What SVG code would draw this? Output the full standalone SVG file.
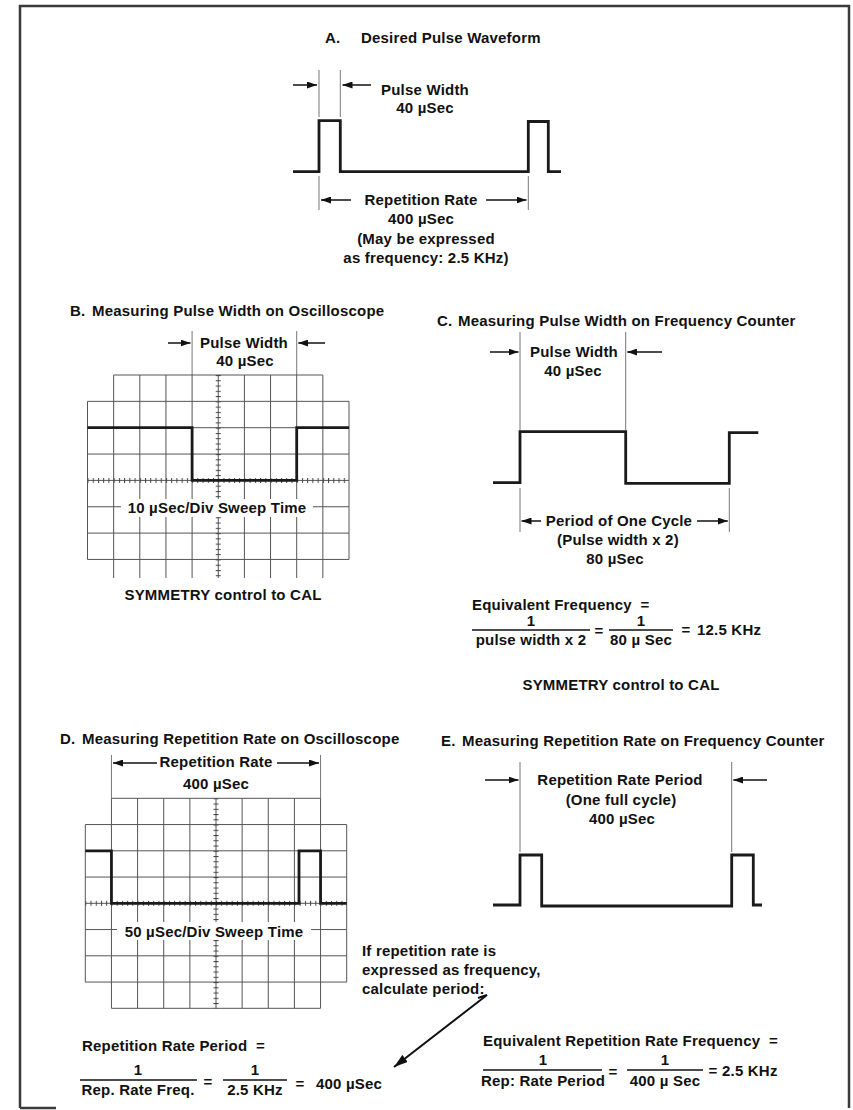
<svg xmlns="http://www.w3.org/2000/svg" width="853" height="1110" viewBox="0 0 853 1110">
<style>
.t{font-family:"Liberation Sans",Arial,sans-serif;font-size:15px;font-weight:bold;fill:#111;letter-spacing:0.2px}
.m{text-anchor:middle}
.ext{stroke:#777;stroke-width:1;fill:none}
.arr{stroke:#111;stroke-width:1.5;fill:none;marker-end:url(#ah)}
.arr2{stroke:#111;stroke-width:2;fill:none;marker-end:url(#ahL)}
.wave{stroke:#1a1a1a;stroke-width:2.8;fill:none;stroke-linejoin:miter}
.grid{stroke:#555;stroke-width:1;fill:none}
.frac{stroke:#111;stroke-width:1.5}
.bg{fill:#fff}
.frame{fill:none;stroke:#3a3a3a;stroke-width:2.5}
</style>
<defs>
<marker id="ah" viewBox="0 0 10 7" markerWidth="10" markerHeight="7" refX="10" refY="3.5" orient="auto" markerUnits="userSpaceOnUse"><path d="M0,0 L10,3.5 L0,7 z" fill="#111"/></marker>
<marker id="ahL" viewBox="0 0 14 9" markerWidth="14" markerHeight="9" refX="14" refY="4.5" orient="auto" markerUnits="userSpaceOnUse"><path d="M0,0 L14,4.5 L0,9 z" fill="#111"/></marker>
<pattern id="tHB" patternUnits="userSpaceOnUse" x="87.5" y="478" width="5.23" height="5"><rect x="0" y="0" width="1" height="5" fill="#444"/></pattern>
<pattern id="tVB" patternUnits="userSpaceOnUse" x="215.75" y="375" width="5" height="5.27"><rect x="0" y="0" width="5" height="1" fill="#444"/></pattern>
<pattern id="tHD" patternUnits="userSpaceOnUse" x="85.3" y="900.8" width="5.228" height="5"><rect x="0" y="0" width="1" height="5" fill="#444"/></pattern>
<pattern id="tVD" patternUnits="userSpaceOnUse" x="213.5" y="798.3" width="5" height="5.25"><rect x="0" y="0" width="5" height="1" fill="#444"/></pattern>
</defs>

<g id="frame">
<path class="frame" d="M20,1108 V6 H849 V1108"/>
<path class="frame" d="M20,1108 H56"/>
</g>

<g id="sectionA">
<text class="t" x="325" y="43">A.</text>
<text class="t" x="361" y="43">Desired Pulse Waveform</text>
<path class="ext" d="M319,70 V117 M340.3,70 V117 M319,176 V210 M528.3,176 V210"/>
<path class="wave" d="M293,171.7 H319 V120.7 H340.3 V171.7 H528.3 V121.5 H548.3 V171.7 H561"/>
<text class="t m" x="425" y="95">Pulse Width</text>
<text class="t m" x="425" y="113">40 µSec</text>
<text class="t m" x="421" y="205">Repetition Rate</text>
<text class="t m" x="421" y="224">400 µSec</text>
<text class="t m" x="426" y="244">(May be expressed</text>
<text class="t m" x="426" y="263">as frequency: 2.5 KHz)</text>
</g>

<g id="sectionB">
<text class="t" x="70" y="316">B.</text>
<text class="t" x="92" y="316">Measuring Pulse Width on Oscilloscope</text>
<text class="t m" x="244" y="348">Pulse Width</text>
<text class="t m" x="245" y="366">40 µSec</text>
<path class="ext" d="M192.1,331 V375 M296.7,331 V375"/>
<path class="grid" d="M113.65,375 H322.85 M87.5,401.35 H349 M87.5,427.7 H349 M87.5,454.05 H349 M87.5,480.4 H349 M87.5,506.75 H349 M87.5,533.1 H349 M87.5,559.45 H349 M87.5,401.35 V559.45 M349,401.35 V559.45 M113.65,375 V578 M139.8,375 V578 M165.95,375 V578 M192.1,375 V578 M218.25,375 V578 M244.4,375 V578 M270.55,375 V578 M296.7,375 V578 M322.85,375 V578"/>
<rect x="87.5" y="478" width="261.5" height="5" fill="url(#tHB)"/>
<rect x="215.75" y="375" width="5" height="203" fill="url(#tVB)"/>
<path class="wave" d="M87.5,427.7 H192.1 V480.4 H296.7 V427.7 H349"/>
<rect class="bg" x="121" y="499" width="192" height="18"/>
<text class="t m" x="217" y="513">10 µSec/Div Sweep Time</text>
<text class="t m" x="223" y="600">SYMMETRY control to CAL</text>
</g>

<g id="sectionC">
<text class="t" x="437" y="326">C.</text>
<text class="t" x="458" y="326">Measuring Pulse Width on Frequency Counter</text>
<text class="t m" x="574" y="357">Pulse Width</text>
<text class="t m" x="573" y="376">40 µSec</text>
<path class="ext" d="M520,332 V430 M625.7,332 V430 M520,488 V532 M729.3,488 V532"/>
<path class="wave" d="M493,482.7 H520 V431.7 H625.7 V483.3 H729.3 V432.7 H758.3"/>
<text class="t m" x="619" y="526">Period of One Cycle</text>
<text class="t m" x="618" y="545">(Pulse width x 2)</text>
<text class="t m" x="615" y="564">80 µSec</text>
<text class="t" x="472" y="610" xml:space="preserve">Equivalent Frequency  =</text>
<text class="t m" x="531" y="626">1</text>
<line class="frac" x1="472" y1="630" x2="590" y2="630"/>
<text class="t m" x="531" y="645">pulse width x 2</text>
<text class="t m" x="599" y="636">=</text>
<text class="t m" x="641" y="626">1</text>
<line class="frac" x1="609" y1="630" x2="673" y2="630"/>
<text class="t m" x="641" y="645">80 µ Sec</text>
<text class="t m" x="686" y="635">=</text>
<text class="t" x="697" y="635">12.5 KHz</text>
<text class="t m" x="621" y="690">SYMMETRY control to CAL</text>
</g>

<g id="sectionD">
<text class="t" x="60" y="744">D.</text>
<text class="t" x="82" y="744">Measuring Repetition Rate on Oscilloscope</text>
<text class="t m" x="216" y="767">Repetition Rate</text>
<text class="t m" x="216" y="789">400 µSec</text>
<path class="ext" d="M111.44,755 V798.3 M320.56,755 V798.3"/>
<path class="grid" d="M111.44,798.3 H320.56 M85.3,824.55 H346.7 M85.3,850.8 H346.7 M85.3,877.05 H346.7 M85.3,903.3 H346.7 M85.3,929.55 H346.7 M85.3,955.8 H346.7 M85.3,982.05 H346.7 M111.44,1008.3 H320.56 M85.3,824.55 V982.05 M346.7,824.55 V982.05 M111.44,798.3 V1008.3 M137.58,798.3 V1008.3 M163.72,798.3 V1008.3 M189.86,798.3 V1008.3 M216,798.3 V1008.3 M242.14,798.3 V1008.3 M268.28,798.3 V1008.3 M294.42,798.3 V1008.3 M320.56,798.3 V1008.3"/>
<rect x="85.3" y="900.8" width="261.4" height="5" fill="url(#tHD)"/>
<rect x="213.5" y="798.3" width="5" height="210" fill="url(#tVD)"/>
<path class="wave" d="M85.3,850.8 H111.44 V903.3 H299 V850.8 H320.56 V903.3 H346.7"/>
<rect class="bg" x="117" y="922" width="194" height="18"/>
<text class="t m" x="214" y="937">50 µSec/Div Sweep Time</text>
<text class="t" x="362" y="956">If repetition rate is</text>
<text class="t" x="362" y="975">expressed as frequency,</text>
<text class="t" x="362" y="994">calculate period:</text>
<text class="t" x="82" y="1051" xml:space="preserve">Repetition Rate Period  =</text>
<text class="t m" x="138" y="1075">1</text>
<line class="frac" x1="80" y1="1080" x2="197" y2="1080"/>
<text class="t m" x="138" y="1095">Rep. Rate Freq.</text>
<text class="t m" x="208" y="1087">=</text>
<text class="t m" x="255" y="1075">1</text>
<line class="frac" x1="223" y1="1080" x2="287" y2="1080"/>
<text class="t m" x="255" y="1095">2.5 KHz</text>
<text class="t m" x="300" y="1089">=</text>
<text class="t" x="316" y="1089">400 µSec</text>
</g>

<g id="sectionE">
<text class="t" x="441" y="746">E.</text>
<text class="t" x="462" y="746">Measuring Repetition Rate on Frequency Counter</text>
<text class="t m" x="620" y="785">Repetition Rate Period</text>
<text class="t m" x="621" y="805">(One full cycle)</text>
<text class="t m" x="622" y="824">400 µSec</text>
<path class="ext" d="M520,762 V852 M731.7,762 V852"/>
<path class="wave" d="M493,905 H520 V855 H541.7 V906 H731.7 V855 H753.3 V905 H762"/>
<text class="t" x="483" y="1046" xml:space="preserve">Equivalent Repetition Rate Frequency  =</text>
<text class="t m" x="543" y="1065">1</text>
<line class="frac" x1="483" y1="1070" x2="602" y2="1070"/>
<text class="t m" x="543" y="1086">Rep: Rate Period</text>
<text class="t m" x="613" y="1077">=</text>
<text class="t m" x="665" y="1065">1</text>
<line class="frac" x1="627" y1="1070" x2="703" y2="1070"/>
<text class="t m" x="665" y="1086">400 µ Sec</text>
<text class="t m" x="713" y="1076">=</text>
<text class="t" x="722" y="1076">2.5 KHz</text>
</g>

<g id="connectors">
<path class="arr" d="M293,85 H317"/>
<path class="arr" d="M371,85 H342.5"/>
<path class="arr" d="M351,200 H321"/>
<path class="arr" d="M486,200 H526.5"/>
<path class="arr" d="M168,343 H190.5"/>
<path class="arr" d="M325,343 H298.3"/>
<path class="arr" d="M490,352 H518.5"/>
<path class="arr" d="M662,352 H627.3"/>
<path class="arr" d="M541,521 H521.5"/>
<path class="arr" d="M697,521 H727.8"/>
<path class="arr" d="M157,763 H113"/>
<path class="arr" d="M277,763 H319"/>
<path class="arr" d="M485,780 H518.5"/>
<path class="arr" d="M767,780 H733.3"/>
<path class="arr2" d="M478,998 L487,995 L394,1067"/>
</g>
</svg>
